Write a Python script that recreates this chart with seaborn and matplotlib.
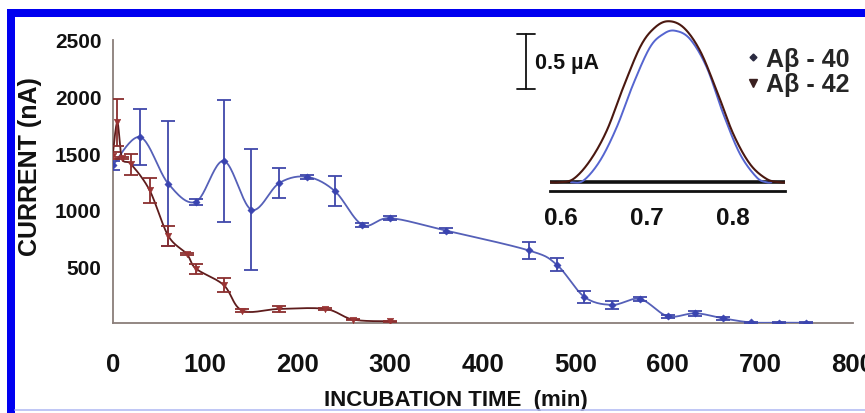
import numpy as np
import pandas as pd
import matplotlib
matplotlib.use("Agg")
import matplotlib.pyplot as plt
from matplotlib.patches import Rectangle
from matplotlib.lines import Line2D
import seaborn as sns

# ---------------- data ----------------
# A-beta 40 (blue)
ab40_time = [0, 30, 60, 90, 120, 150, 180, 210, 240, 270, 300, 360, 450, 480,
             510, 540, 570, 600, 630, 660, 690, 720, 750]
ab40_current = [1390, 1640, 1230, 1070, 1430, 1000, 1235, 1290, 1165, 866, 925,
                816, 640, 515, 230, 160, 212, 60, 86, 41, 5, 3, 2]
ab40_err = [40, 245, 550, 25, 535, 535, 130, 15, 135, 20, 15, 25, 75, 60, 55,
            35, 15, 15, 20, 15, 5, 5, 5]

# A-beta 42 (red)
ab42_time = [0, 5, 10, 20, 40, 60, 80, 90, 120, 140, 180, 230, 260, 300]
ab42_current = [1475, 1770, 1455, 1400, 1170, 770, 610, 480, 335, 110, 124,
                124, 30, 15]
ab42_err = [30, 210, 10, 95, 110, 90, 10, 45, 65, 10, 25, 10, 5, 5]

x_ticks = [0, 100, 200, 300, 400, 500, 600, 700, 800]
y_ticks = [500, 1000, 1500, 2000, 2500]

# inset voltammograms (potential in V, current in uA above baseline)
inset_red_E = [0.588, 0.598, 0.6147, 0.634, 0.6535, 0.6728, 0.6922, 0.7077,
               0.724, 0.7426, 0.762, 0.7814, 0.8007, 0.8201, 0.8395, 0.855, 0.862]
inset_red_I = [0.0, 0.0, 0.03, 0.196, 0.469, 0.864, 1.227, 1.394, 1.464,
               1.409, 1.196, 0.833, 0.439, 0.166, 0.03, 0.0, 0.0]
inset_blue_E = [0.612, 0.6263, 0.6457, 0.6651, 0.6844, 0.7038, 0.7193, 0.7329,
                0.7503, 0.7698, 0.7891, 0.8085, 0.8279, 0.8395, 0.845]
inset_blue_I = [0.0, 0.015, 0.196, 0.5, 0.894, 1.227, 1.348, 1.378, 1.303,
                1.045, 0.621, 0.257, 0.045, 0.0, 0.0]
inset_ticks = [0.6, 0.7, 0.8]
legend_labels = ["A\u03b2 - 40", "A\u03b2 - 42"]


def smooth(x, y, n=24):
    """Excel-style smoothed line (Catmull-Rom Bezier) through the points."""
    pts = np.column_stack([x, y]).astype(float)
    P = np.vstack([pts[0], pts, pts[-1]])
    out = []
    t = np.linspace(0, 1, n, endpoint=False)[:, None]
    for i in range(1, len(P) - 2):
        p0, p1, p2, p3 = P[i - 1], P[i], P[i + 1], P[i + 2]
        c1 = p1 + (p2 - p0) / 6.0
        c2 = p2 - (p3 - p1) / 6.0
        b = ((1 - t) ** 3) * p1 + 3 * ((1 - t) ** 2) * t * c1 + \
            3 * (1 - t) * t ** 2 * c2 + t ** 3 * p2
        out.append(b)
    out.append(pts[-1][None])
    s = np.vstack(out)
    return pd.DataFrame({"x": s[:, 0], "y": s[:, 1]})


sns.set_style("white")
plt.rcParams["font.family"] = ["Liberation Sans", "DejaVu Sans"]
plt.rcParams["font.weight"] = "bold"

W, H = 865, 414
fig = plt.figure(figsize=(W / 100, H / 100), dpi=100)
fig.patch.set_facecolor("white")

narrow = ["Liberation Sans Narrow", "Liberation Sans", "DejaVu Sans"]

# ---------------- main axes ----------------
x0, x1, ytop, ybot = 112.7, 852.7, 40.7, 324.0
ax = fig.add_axes([x0 / W, (H - ybot) / H, (x1 - x0) / W, (ybot - ytop) / H])
ax.set_facecolor("none")

BLUE_LINE = "#5560b8"
BLUE_ERR = "#4048aa"
BLUE_MK = "#3a44b0"
RED_LINE = "#5e1c1c"
RED_ERR = "#8a2e2e"
RED_MK = "#9a3434"

sns.lineplot(data=smooth(ab40_time, ab40_current), x="x", y="y", sort=False,
             estimator=None, color=BLUE_LINE, lw=1.3, ax=ax, zorder=3)
ax.errorbar(ab40_time, ab40_current, yerr=ab40_err, fmt="none",
            ecolor=BLUE_ERR, elinewidth=1.3, capsize=5, capthick=1.3, zorder=4)
sns.scatterplot(x=ab40_time, y=ab40_current, marker="D", s=14, color=BLUE_MK,
                edgecolor=BLUE_MK, ax=ax, zorder=5)

sns.lineplot(data=smooth(ab42_time, ab42_current), x="x", y="y", sort=False,
             estimator=None, color=RED_LINE, lw=1.3, ax=ax, zorder=6)
ax.errorbar(ab42_time, ab42_current, yerr=ab42_err, fmt="none",
            ecolor=RED_ERR, elinewidth=1.3, capsize=5, capthick=1.3, zorder=7)
sns.scatterplot(x=ab42_time, y=ab42_current, marker="v", s=22, color=RED_MK,
                edgecolor=RED_MK, ax=ax, zorder=8)

ax.set_xlim(0, 800)
ax.set_ylim(0, 2500)
ax.set_xticks(x_ticks)
ax.set_yticks(y_ticks)
ax.set_xticklabels([str(v) for v in x_ticks], family=narrow, weight="bold",
                   fontsize=18.5)
ax.set_yticklabels([str(v) for v in y_ticks], weight="bold", fontsize=15)
SPINE = "#8a7e7a"
for s in ["top", "right"]:
    ax.spines[s].set_visible(False)
for s in ["left", "bottom"]:
    ax.spines[s].set_color(SPINE)
    ax.spines[s].set_linewidth(1.3)
ax.tick_params(axis="x", direction="in", length=4, width=1, color=SPINE,
               pad=21, labelcolor="#111111")
ax.tick_params(axis="y", direction="in", length=4, width=1, color=SPINE,
               pad=8, labelcolor="#111111")
ax.set_xlabel("INCUBATION TIME  (min)", fontsize=16, weight="bold",
              color="#111111")
ax.set_ylabel("CURRENT (nA)", fontsize=18, weight="bold", color="#111111")
ax.xaxis.set_label_coords((456 - x0) / (x1 - x0), -(390 - ybot) / (ybot - ytop))
ax.yaxis.set_label_coords(-(x0 - 42) / (x1 - x0), (ybot - 167) / (ybot - ytop))

# ---------------- inset ----------------
ix0, ix1, iy0, iy1 = 550, 785, 20, 191.7
iax = fig.add_axes([ix0 / W, (H - iy1) / H, (ix1 - ix0) / W, (iy1 - iy0) / H])
iax.set_facecolor("none")
e_per_px = 0.1 / 86.0
i_per_px = 0.5 / 55.0
base_px = 183.3
iax.set_xlim(0.6 + (ix0 - 560.7) * e_per_px, 0.6 + (ix1 - 560.7) * e_per_px)
iax.set_ylim(-(iy1 - base_px) * i_per_px, (base_px - iy0) * i_per_px)

iax.axhline(0, color="#111111", lw=2.6, zorder=2)
sns.lineplot(data=smooth(inset_blue_E, inset_blue_I), x="x", y="y", sort=False,
             estimator=None, color="#5565d0", lw=1.4, ax=iax, zorder=3)
sns.lineplot(data=smooth(inset_red_E, inset_red_I), x="x", y="y", sort=False,
             estimator=None, color="#4a1810", lw=1.5, ax=iax, zorder=4)
iax.set_xlabel("")
iax.set_ylabel("")
iax.set_xticks(inset_ticks)
iax.set_xticklabels([f"{v:.1f}" for v in inset_ticks], family=narrow,
                    weight="bold", fontsize=17.5)
iax.set_yticks([])
for s in ["top", "right", "left"]:
    iax.spines[s].set_visible(False)
iax.spines["bottom"].set_color("#111111")
iax.spines["bottom"].set_linewidth(2)
iax.tick_params(axis="x", direction="out", length=7, width=2, color="#111111",
                pad=4, labelcolor="#111111")

# scale bar 0.5 uA
sb_x = 0.6 + (526 - 560.7) * e_per_px
sb_lo = (base_px - 90) * i_per_px
sb_hi = sb_lo + 0.5
cap = 9 * e_per_px
for yy in (sb_lo, sb_hi):
    iax.plot([sb_x - cap, sb_x + cap], [yy, yy], color="#111111", lw=1.3,
             clip_on=False)
iax.plot([sb_x, sb_x], [sb_lo, sb_hi], color="#111111", lw=1.3, clip_on=False)
fig.text(535 / W, 1 - 63 / H, "0.5 \u00b5A", fontsize=15.5, weight="bold",
         ha="left", va="center", color="#111111")

# legend
handles = [Line2D([], [], ls="", marker="D", ms=3.5, color="#2a2a40"),
           Line2D([], [], ls="", marker="v", ms=5.5, color="#3a2020")]
fig.legend(handles, legend_labels, loc="upper left",
           bbox_to_anchor=(745 / W, 1 - 48 / H), frameon=False,
           prop={"weight": "bold", "size": 18}, handlelength=0.6,
           handletextpad=0.25, labelspacing=0.05, borderpad=0,
           borderaxespad=0)

# ---------------- frame ----------------
BORDER = "#0000f0"
fig.add_artist(Rectangle((7 / W, 0), 8 / W, (H - 10) / H,
                         transform=fig.transFigure, color=BORDER, lw=0))
fig.add_artist(Rectangle((7 / W, (H - 18.3) / H), (W - 7) / W, 8.3 / H,
                         transform=fig.transFigure, color=BORDER, lw=0))
fig.add_artist(Line2D([15 / W, 1], [1 - 411 / H, 1 - 411 / H],
                      transform=fig.transFigure, color="#b4bcf4", lw=1.2))

fig.savefig("out.png", dpi=100, facecolor="white")
